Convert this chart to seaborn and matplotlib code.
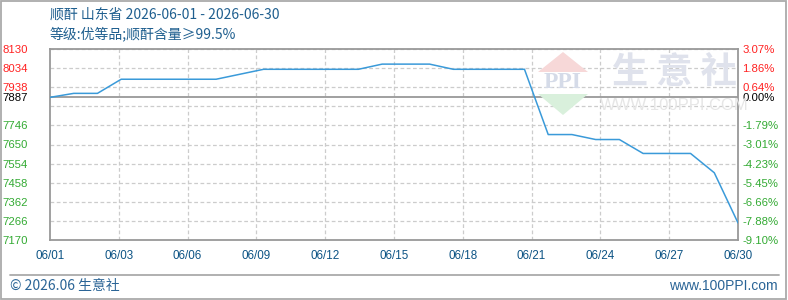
import matplotlib
matplotlib.use("Agg")
import matplotlib.pyplot as plt
import seaborn as sns
import pandas as pd
from matplotlib.patches import Polygon, Rectangle
from matplotlib.lines import Line2D

# ---- data ----
days = [1, 2, 3, 4, 5, 6, 7, 8, 10, 11, 12, 13, 14, 15, 16, 17, 18, 19, 20, 21,
        22, 23, 24, 25, 26, 27, 28, 29, 30]
prices = [7887, 7907, 7907, 7978, 7978, 7978, 7978, 7978, 8028, 8028, 8028, 8028, 8028,
          8054, 8054, 8054, 8028, 8028, 8028, 8028,
          7700, 7700, 7675, 7675, 7605, 7605, 7605, 7508, 7256]
x_tick_pos = [1, 3.9, 6.8, 9.7, 12.6, 15.5, 18.4, 21.3, 24.2, 27.1, 30]
x_tick_labels = ["06/01", "06/03", "06/06", "06/09", "06/12", "06/15",
                 "06/18", "06/21", "06/24", "06/27", "06/30"]
grid_levels = [8130, 8034, 7938, 7842, 7746, 7650, 7554, 7458, 7362, 7266, 7170]
left_ticks = [8130, 8034, 7938, 7887, 7746, 7650, 7554, 7458, 7362, 7266, 7170]
right_labels = ["3.07%", "1.86%", "0.64%", "0.00%", "-1.79%", "-3.01%", "-4.23%",
                "-5.45%", "-6.66%", "-7.88%", "-9.10%"]
base_price = 7887
title1 = "顺酐 山东省 2026-06-01 - 2026-06-30"
title2 = "等级:优等品;顺酐含量≥99.5%"

sns.set_theme(style="white")
plt.rcParams['font.family'] = ['Noto Sans CJK SC', 'DejaVu Sans']

W, H = 788, 300
fig = plt.figure(figsize=(W / 100, H / 100), dpi=100)
fig.patch.set_facecolor("white")
ax = fig.add_axes([50 / W, 60 / H, 688 / W, 191 / H])

df = pd.DataFrame({"day": days, "price": prices})

# grid
for g in grid_levels:
    ax.axhline(g, color="#cccccc", lw=0.9, ls=(0, (3, 2)), zorder=1)
for xp in x_tick_pos[1:-1]:
    ax.axvline(xp, color="#cccccc", lw=0.9, ls=(0, (3, 2)), zorder=1)
ax.axhline(base_price, color="#999999", lw=1.3, zorder=2)

sns.lineplot(data=df, x="day", y="price", ax=ax, color="#3a9ad9", lw=1.1, zorder=3)

ax.set_xlim(1, 30)
ax.set_ylim(7170, 8130)
ax.set_xlabel("")
ax.set_ylabel("")

for s in ax.spines.values():
    s.set_color("#999999")
    s.set_linewidth(1.3)

ax.set_xticks(x_tick_pos)
ax.set_xticklabels(x_tick_labels, fontsize=8.4, color="#0d5485", family="Liberation Sans")
ax.tick_params(axis="x", length=0, pad=7)

ax.set_yticks(left_ticks)
ax.set_yticklabels([str(v) for v in left_ticks], fontsize=8.2, family="Liberation Sans")
ax.tick_params(axis="y", length=0, pad=16)

def col(v):
    if v > base_price:
        return "#ff2222"
    if v < base_price:
        return "#33aa33"
    return "#000000"

for lbl, v in zip(ax.get_yticklabels(), left_ticks):
    lbl.set_color(col(v))

ax2 = ax.twinx()
ax2.set_ylim(7170, 8130)
ax2.set_yticks(left_ticks)
ax2.set_yticklabels(right_labels, fontsize=8.2, family="Liberation Sans")
ax2.tick_params(axis="y", length=0, pad=3)
for lbl, v in zip(ax2.get_yticklabels(), left_ticks):
    lbl.set_color(col(v))
for s in ax2.spines.values():
    s.set_visible(False)
ax2.grid(False)
ax.grid(False)

# watermark
def fx(px):
    return px / W

def fy(py):
    return 1 - py / H

fig.patches.append(Polygon([(fx(538), fy(72)), (fx(588), fy(72)), (fx(563), fy(52))],
                           closed=True, transform=fig.transFigure, facecolor="#f7d8d8",
                           edgecolor="none", zorder=0))
fig.patches.append(Polygon([(fx(538), fy(94)), (fx(588), fy(94)), (fx(563), fy(115))],
                           closed=True, transform=fig.transFigure, facecolor="#d9f0dc",
                           edgecolor="none", zorder=0))
fig.text(fx(563), fy(83), "PPI", ha="center", va="center", fontsize=17,
         color="#d5dbe8", family="Liberation Serif", fontweight="bold", zorder=0)
fig.text(fx(674), fy(72), "生 意 社", ha="center", va="center", fontsize=26,
         color="#dfe2ec", family=["Noto Sans CJK SC"], fontweight="bold", zorder=0)
fig.text(fx(674), fy(106), "WWW.100PPI.COM", ha="center", va="center", fontsize=12,
         color="#e6e6e6", family="Liberation Sans", zorder=0)
ax.set_facecolor("none")

# titles
fig.text(fx(50), fy(15), title1, ha="left", va="center", fontsize=10, color="#1f5f8f")
fig.text(fx(50), fy(34), title2, ha="left", va="center", fontsize=10, color="#1f5f8f")

# footer
fig.add_artist(Line2D([fx(10), fx(779)], [fy(275), fy(275)], transform=fig.transFigure,
                      color="#aaaaaa", lw=1.3))
fig.text(fx(10), fy(286), "© 2026.06 生意社", ha="left", va="center", fontsize=10,
         color="#2a6496")
fig.text(fx(778), fy(286), "www.100PPI.com", ha="right", va="center", fontsize=10,
         color="#2a6496", family="Liberation Sans")

# outer border
fig.patches.append(Rectangle((fx(1), fy(299)), fx(785), 298 / H, transform=fig.transFigure,
                             fill=False, edgecolor="#aaaaaa", lw=1.3, zorder=5))

fig.savefig("out.png", dpi=100, facecolor="white")
